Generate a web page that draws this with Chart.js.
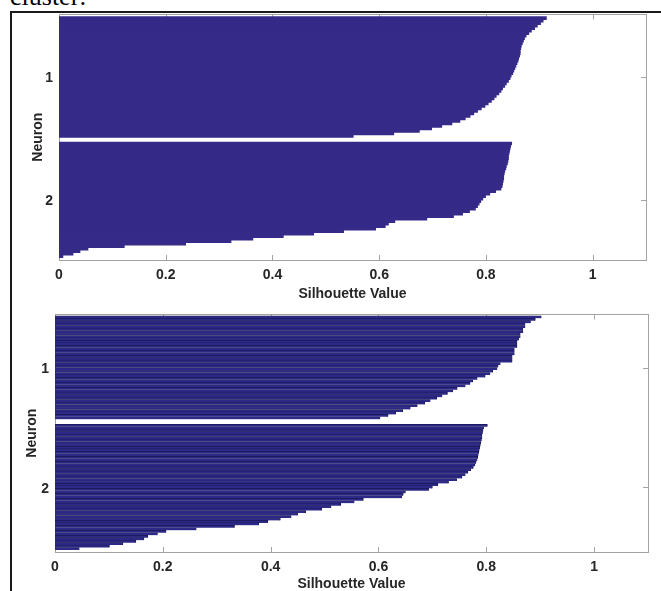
<!DOCTYPE html>
<html>
<head>
<meta charset="utf-8">
<script src="https://cdn.jsdelivr.net/npm/chart.js@4/dist/chart.umd.min.js"></script>
<style>
  html, body { margin: 0; padding: 0; background: #fff; }
  body { width: 661px; height: 591px; position: relative; overflow: hidden; }
  .caption { position: absolute; left: 10px; top: -18px; font: 26px 'Liberation Serif', serif; color: #000; white-space: nowrap; }
  .frame { position: absolute; left: 10px; top: 11px; width: 700px; height: 600px; border-top: 2px solid #1a1a1a; border-left: 2px solid #1a1a1a; }
  canvas { position: absolute; left: 0; }
  #sil-top { top: 0; }
  #sil-bottom { top: 300px; }
</style>
</head>
<body>
<div class="caption">cluster:</div>
<div class="frame"></div>
<canvas id="sil-top" width="661" height="305"></canvas>
<canvas id="sil-bottom" width="661" height="291"></canvas>
<script>
(function () {
  'use strict';

  // ── Data (silhouette values, sorted per cluster, top to bottom) ──
  var X_TICKS        = [0, 0.2, 0.4, 0.6, 0.8, 1];
  var CLUSTER_LABELS = ['1', '2'];

  var TOP_NEURON_1 = [0.914, 0.908, 0.903, 0.897, 0.892, 0.886, 0.881, 0.876, 0.873, 0.871,
                      0.869, 0.867, 0.866, 0.865, 0.865, 0.864, 0.862, 0.861, 0.859, 0.857,
                      0.855, 0.853, 0.851, 0.848, 0.846, 0.843, 0.839, 0.836, 0.832, 0.829,
                      0.825, 0.820, 0.816, 0.811, 0.805, 0.799, 0.792, 0.785, 0.778, 0.771,
                      0.762, 0.752, 0.737, 0.718, 0.699, 0.676, 0.628, 0.552];
  var TOP_NEURON_2 = [0.849, 0.847, 0.846, 0.845, 0.844, 0.843, 0.843, 0.842, 0.841, 0.839,
                      0.838, 0.836, 0.835, 0.834, 0.834, 0.833, 0.832, 0.831, 0.829, 0.819,
                      0.808, 0.800, 0.795, 0.791, 0.788, 0.785, 0.781, 0.770, 0.757, 0.740,
                      0.690, 0.630, 0.618, 0.612, 0.594, 0.534, 0.478, 0.421, 0.364, 0.323,
                      0.238, 0.123, 0.055, 0.040, 0.027, 0.008];

  var BOTTOM_NEURON_1 = [0.902, 0.891, 0.882, 0.872, 0.872, 0.868, 0.868, 0.863, 0.863, 0.860,
                         0.857, 0.857, 0.857, 0.852, 0.852, 0.852, 0.848, 0.848, 0.848, 0.826,
                         0.822, 0.820, 0.812, 0.807, 0.798, 0.783, 0.775, 0.770, 0.761, 0.746,
                         0.738, 0.728, 0.718, 0.708, 0.696, 0.686, 0.672, 0.659, 0.645, 0.632,
                         0.618, 0.603];
  var BOTTOM_NEURON_2 = [0.802, 0.795, 0.794, 0.793, 0.792, 0.792, 0.791, 0.790, 0.789, 0.788,
                         0.787, 0.786, 0.785, 0.784, 0.783, 0.781, 0.779, 0.776, 0.771, 0.766,
                         0.761, 0.755, 0.745, 0.730, 0.710, 0.700, 0.693, 0.650, 0.646, 0.643,
                         0.572, 0.555, 0.530, 0.512, 0.495, 0.465, 0.450, 0.438, 0.418, 0.395,
                         0.378, 0.333, 0.262, 0.206, 0.190, 0.172, 0.165, 0.150, 0.126, 0.101,
                         0.045];

  var GAP = 2;  // empty rows between clusters

  // ── Style ───────────────────────────────────────────────
  var TEXT     = '#262626';
  var AXIS     = '#a3a3a3';
  var TICK_LEN = 5;
  var FONT     = { family: "'Liberation Sans', Arial, sans-serif", size: 14, weight: 'bold' };

  // ── Row positions ───────────────────────────────────────
  function layoutClusters(clusters) {
    var points = [], centers = [], pos = 0;
    clusters.forEach(function (vals, c) {
      if (c > 0) pos += GAP;
      var first = pos + 1;
      vals.forEach(function (v) { pos += 1; points.push({ x: v, y: pos }); });
      centers.push({ value: (first + pos) / 2, label: CLUSTER_LABELS[c] });
    });
    return { points: points, centers: centers, last: pos };
  }

  // box + inward tick marks, MATLAB style
  var boxTicks = {
    id: 'boxTicks',
    beforeDatasetsDraw: function (chart) {
      var a = chart.chartArea, ctx = chart.ctx;
      var xs = chart.scales.x, ys = chart.scales.y;
      ctx.save();
      ctx.strokeStyle = AXIS;
      ctx.lineWidth = 1;
      ctx.beginPath();
      xs.ticks.forEach(function (t) {
        var px = Math.round(xs.getPixelForValue(t.value)) + 0.5;
        ctx.moveTo(px, a.top);    ctx.lineTo(px, a.top + TICK_LEN);
        ctx.moveTo(px, a.bottom); ctx.lineTo(px, a.bottom - TICK_LEN);
      });
      ys.ticks.forEach(function (t) {
        var py = Math.round(ys.getPixelForValue(t.value)) + 0.5;
        ctx.moveTo(a.left, py);  ctx.lineTo(a.left + TICK_LEN, py);
        ctx.moveTo(a.right, py); ctx.lineTo(a.right - TICK_LEN, py);
      });
      ctx.stroke();
      ctx.strokeRect(Math.round(a.left) + 0.5, Math.round(a.top) + 0.5,
                     Math.round(a.right - a.left), Math.round(a.bottom - a.top));
      ctx.restore();
    }
  };

  function createSilhouette(id, clusters, o) {
    var lay = layoutClusters(clusters);
    return new Chart(document.getElementById(id), {
      type: 'bar',
      data: {
        datasets: [{
          data: lay.points,
          backgroundColor: o.fill,
          borderColor: o.edge,
          borderWidth: o.edgeWidth,
          borderSkipped: 'start',
          barPercentage: o.barPct,
          categoryPercentage: 1
        }]
      },
      options: {
        indexAxis: 'y',
        responsive: false,
        animation: false,
        devicePixelRatio: 1,
        layout: { padding: o.padding },
        plugins: { legend: { display: false }, tooltip: { enabled: false } },
        scales: {
          x: {
            type: 'linear', min: 0, max: 1.1, offset: false,
            grid: { display: false, drawTicks: false },
            border: { display: false },
            afterBuildTicks: function (s) { s.ticks = X_TICKS.map(function (v) { return { value: v }; }); },
            afterFit: function (s) { s.height = o.xHeight; },
            ticks: { padding: o.xTickPad, font: FONT, color: TEXT, autoSkip: false,
                     callback: function (v) { return String(v); } },
            title: { display: true, text: 'Silhouette Value', font: FONT, color: TEXT,
                     padding: { top: 0, bottom: o.xTitlePad } }
          },
          y: {
            type: 'linear', reverse: true, offset: false,
            min: 0.5 - o.yPadStart, max: lay.last + 0.5 + o.yPadEnd,
            grid: { display: false, drawTicks: false },
            border: { display: false },
            afterBuildTicks: function (s) { s.ticks = lay.centers.map(function (c) { return { value: c.value }; }); },
            afterFit: function (s) { s.width = o.yWidth; },
            ticks: { padding: 6, font: FONT, color: TEXT, autoSkip: false, labelOffset: 1.5,
                     callback: function (v, i) { return lay.centers[i].label; } },
            title: { display: true, text: 'Neuron', font: FONT, color: TEXT,
                     padding: { top: o.yTitlePad, bottom: 0 } }
          }
        }
      },
      plugins: [boxTicks]
    });
  }

  // ── Init ─────────────────────────────────────────────────
  createSilhouette('sil-top', [TOP_NEURON_1, TOP_NEURON_2], {
    fill: '#352a87', edge: '#352a87', edgeWidth: 0, barPct: 1.45,
    padding: { top: 14, right: 15, left: 0, bottom: 0 },
    xHeight: 45, yWidth: 59, xTickPad: 7, xTitlePad: 2.6, yTitlePad: 29.6,
    yPadStart: 1.0, yPadEnd: 1.0
  });

  createSilhouette('sil-bottom', [BOTTOM_NEURON_1, BOTTOM_NEURON_2], {
    fill: '#2d2987', edge: '#0f0e36', edgeWidth: { top: 0.5, right: 0.6, bottom: 0, left: 0 }, barPct: 1,
    padding: { top: 11, right: 13, left: 0, bottom: 0 },
    xHeight: 39, yWidth: 55, xTickPad: 7, xTitlePad: -1.5, yTitlePad: 23.6,
    yPadStart: 0.55, yPadEnd: 0.8
  });
}());
</script>
</body>
</html>
